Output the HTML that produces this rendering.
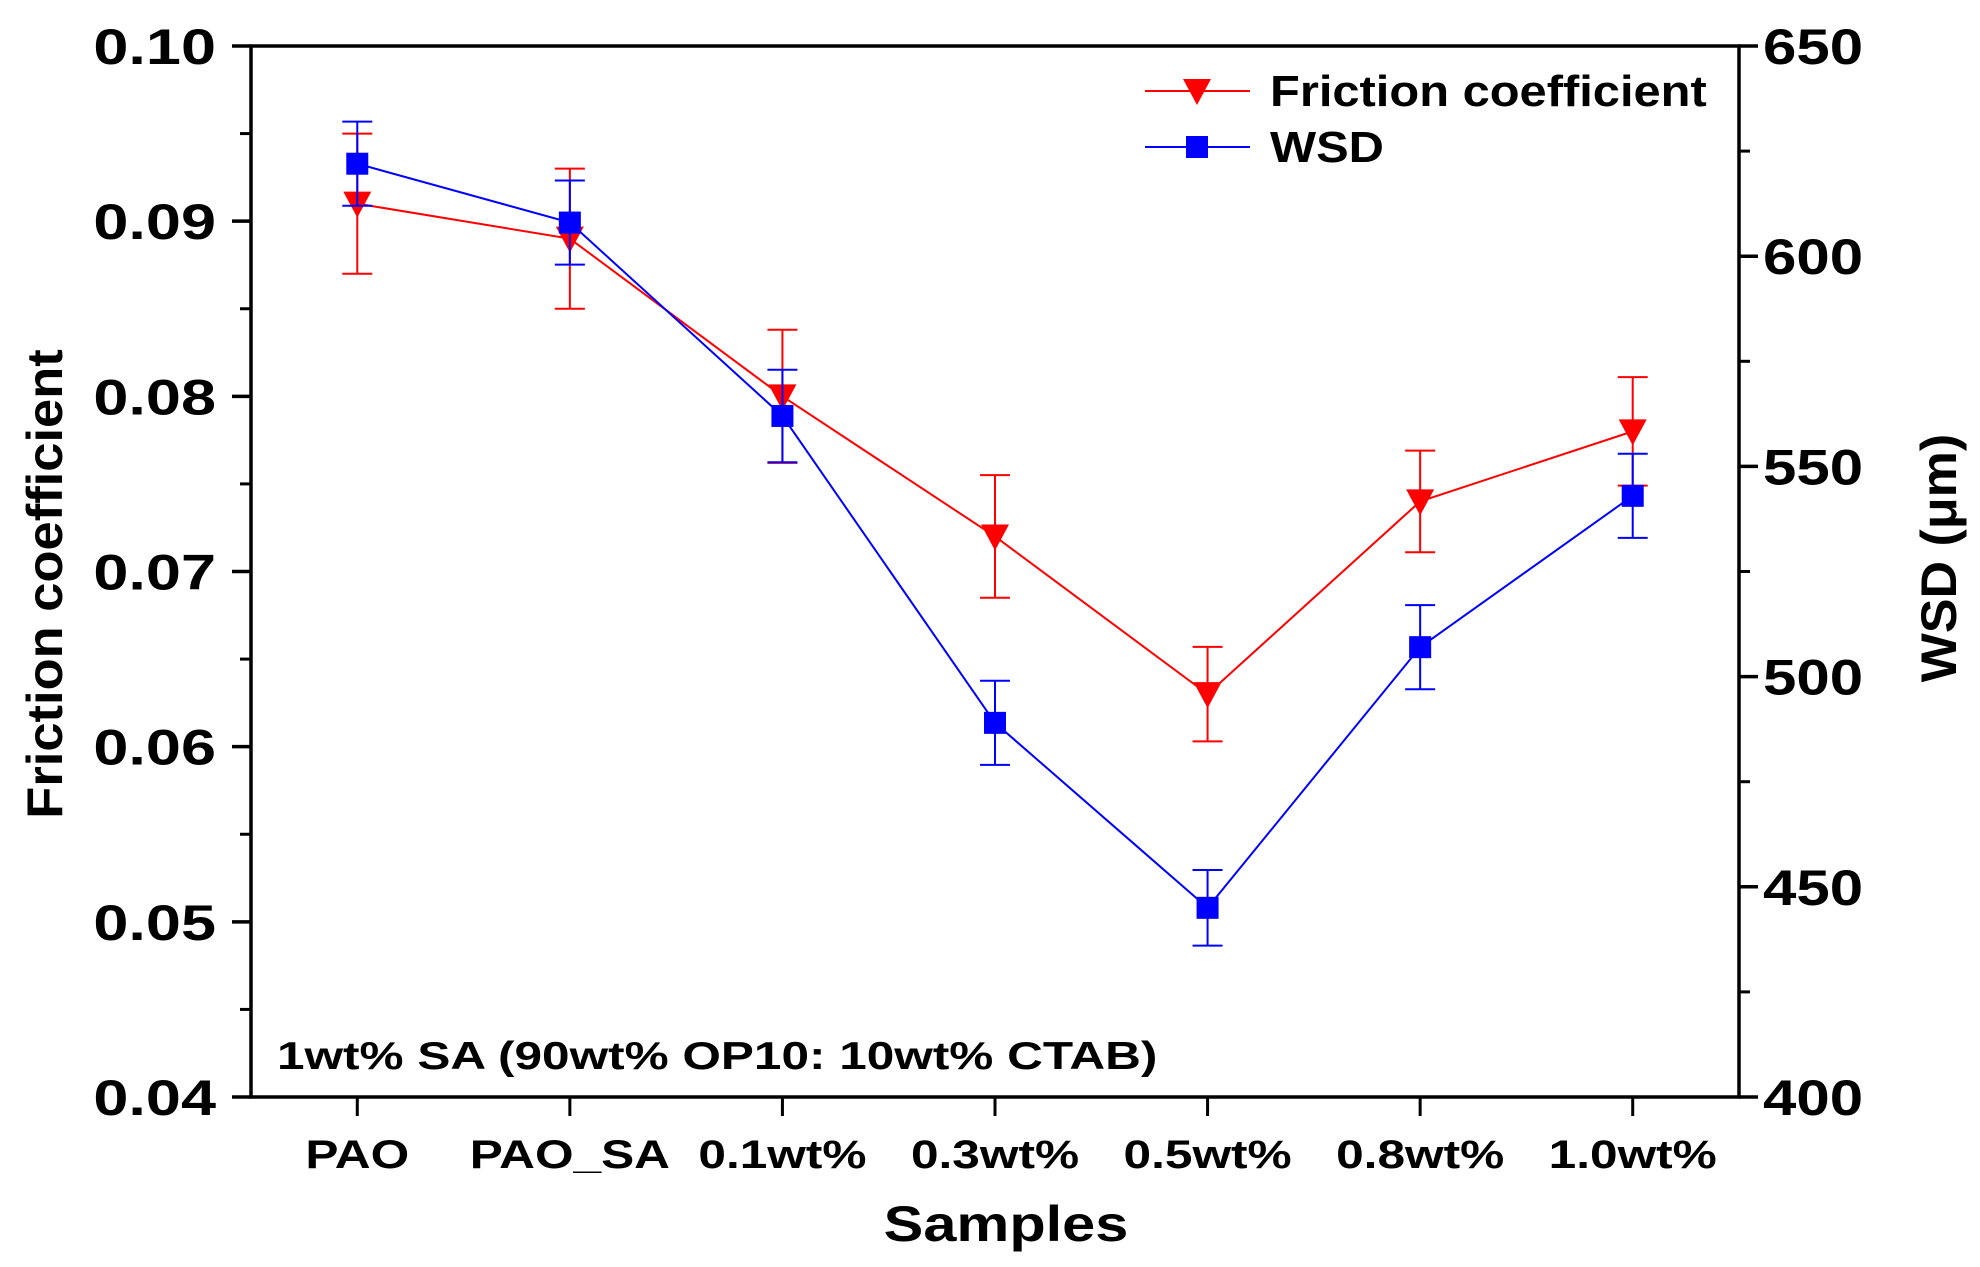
<!DOCTYPE html>
<html><head><meta charset="utf-8"><style>
html,body{margin:0;padding:0;background:#fff;}
svg{display:block;font-family:"Liberation Sans",Arial,sans-serif;font-weight:bold;}
</style></head><body>
<svg id="chart" width="1980" height="1267" viewBox="0 0 1980 1267" xmlns="http://www.w3.org/2000/svg"></svg>
<script>
const categories = ["PAO","PAO_SA","0.1wt%","0.3wt%","0.5wt%","0.8wt%","1.0wt%"];
const frictionValues = [0.091,0.089,0.080,0.072,0.063,0.074,0.078];
const frictionErrors = [0.004,0.004,0.0038,0.0035,0.0027,0.0029,0.0031];
const wsdValues = [622,608,562,489,445,507,543];
const wsdErrors = [10,10,11,10,9,10,10];
const leftTicks = [0.04,0.05,0.06,0.07,0.08,0.09,0.10];
const leftTickLabels = ["0.04","0.05","0.06","0.07","0.08","0.09","0.10"];
const rightTicks = [400,450,500,550,600,650];

const L=251,R=1739,T=46,B=1097;
const svg=document.getElementById('chart');
const NS='http://www.w3.org/2000/svg';
function mk(tag,attrs,parent){const e=document.createElementNS(NS,tag);for(const k in attrs)e.setAttribute(k,attrs[k]);(parent||svg).appendChild(e);return e;}
function txt(x,y,s,size,anchor,sx,rot,parent){
  const e=mk('text',{x:0,y:0,'font-size':size,'text-anchor':anchor||'start',
    transform:`translate(${x},${y})`+(rot?` rotate(${rot})`:'')+` scale(${sx},1)`},parent);
  e.textContent=s;return e;}
const xS=i=>L+(i+0.5)*(R-L)/categories.length;
const yL=v=>B-(v-0.04)/(0.06)*(B-T);
const yR=v=>B-(v-400)/250*(B-T);

let e=mk('rect',{x:L,y:T,width:R-L,height:B-T,fill:'none',stroke:'#000','stroke-width':3.5});



leftTicks.forEach((v,i)=>{
  let t=mk('line',{x1:L-19,x2:L,y1:yL(v),y2:yL(v),stroke:'#000','stroke-width':3.5});
  
  
  let tx=txt(216,yL(v)+18,leftTickLabels[i],50,'end',1.26);
  
  
  if(i<leftTicks.length-1){const m=(v+leftTicks[i+1])/2;
    let mt=mk('line',{x1:L-11,x2:L,y1:yL(m),y2:yL(m),stroke:'#000','stroke-width':3});
    
    }
});
rightTicks.forEach((v,i)=>{
  let t=mk('line',{x1:R,x2:R+19,y1:yR(v),y2:yR(v),stroke:'#000','stroke-width':3.5});
  
  
  let tx=txt(R+24,yR(v)+18,String(v),50,'start',1.2);
  
  
  if(i<rightTicks.length-1){const m=(v+rightTicks[i+1])/2;
    let mt=mk('line',{x1:R,x2:R+11,y1:yR(m),y2:yR(m),stroke:'#000','stroke-width':3});
    
    }
});
categories.forEach((c,i)=>{
  let t=mk('line',{x1:xS(i),x2:xS(i),y1:B,y2:B+19,stroke:'#000','stroke-width':3});
  
  
  let tx=txt(xS(i),1168,c,40,'middle',1.24);
  
  
});
e=txt(1006,1241,'Samples',50,'middle',1.19);


e=txt(62,584,'Friction coefficient',50,'middle',1.05,-90);


e=txt(1956,558,'WSD (μm)',50,'middle',1.04,-90);


e=txt(277,1069,'1wt% SA (90wt% OP10: 10wt% CTAB)',39,'start',1.27);



function drawSeries(vals,errs,yf,color,name,marker){
  const g=mk('g',{});
  
  
  vals.forEach((v,i)=>{
    const x=xS(i);
    let eb=mk('path',{d:`M${x},${yf(v-errs[i])}V${yf(v+errs[i])}M${x-15},${yf(v-errs[i])}h30M${x-15},${yf(v+errs[i])}h30`,stroke:color,'stroke-width':2,fill:'none'},g);
    
    
  });
  let pl=mk('polyline',{points:vals.map((v,i)=>xS(i)+','+yf(v)).join(' '),fill:'none',stroke:color,'stroke-width':2},g);
  
  
  vals.forEach((v,i)=>{
    const x=xS(i),y=yf(v);let m;
    if(marker==='tri') m=mk('path',{d:`M${x-14},${y-12}L${x+14},${y-12}L${x},${y+14}Z`,fill:color},g);
    else m=mk('rect',{x:x-11,y:y-11,width:22,height:22,fill:color},g);
    
    
  });
}
drawSeries(frictionValues,frictionErrors,yL,'#ff0000','friction','tri');
drawSeries(wsdValues,wsdErrors,yR,'#0000ff','wsd','sq');

const lg=mk('g',{});


e=mk('line',{x1:1145,x2:1250,y1:91,y2:91,stroke:'#ff0000','stroke-width':2},lg);


e=mk('path',{d:'M1183,79L1211,79L1197,105Z',fill:'#ff0000'},lg);


e=txt(1270,106,'Friction coefficient',44,'start',1.11,0,lg);


e=mk('line',{x1:1145,x2:1250,y1:147,y2:147,stroke:'#0000ff','stroke-width':2},lg);


e=mk('rect',{x:1186,y:136,width:22,height:22,fill:'#0000ff'},lg);


e=txt(1270,162,'WSD',44,'start',1.11,0,lg);


</script>
</body></html>
